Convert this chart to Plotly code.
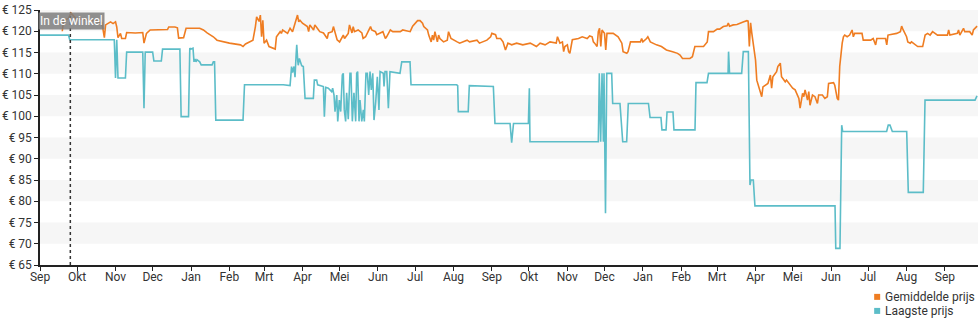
import pandas as pd
import plotly.graph_objects as go

START = pd.Timestamp("2022-09-01")
END_DAY = 757.7

# Gemiddelde prijs: days since START and price in euro
avg_days = [
    18, 19, 23, 25, 29, 36, 44, 50, 52, 53, 57, 59, 61, 62, 63, 65, 66, 69, 70, 77,
    83, 84, 86, 89, 97, 103, 104, 109, 111, 112, 116, 118, 129, 132, 135, 140, 143, 148, 153, 162,
    164, 166, 170, 172, 174, 175, 177, 178, 179, 180, 181, 183, 185, 188, 190, 191, 194, 195, 196, 200,
    202, 204, 206, 208, 209, 210, 212, 216, 217, 218, 221, 222, 224, 226, 229, 232, 233, 236, 237, 238,
    240, 242, 245, 246, 249, 250, 252, 253, 254, 257, 260, 261, 263, 265, 267, 268, 271, 272, 275, 277,
    279, 280, 283, 285, 291, 293, 299, 301, 305, 307, 309, 310, 313, 314, 316, 317, 318, 319, 321, 322,
    323, 326, 329, 330, 332, 334, 337, 339, 342, 345, 347, 353, 355, 358, 361, 364, 365, 368, 369, 372,
    374, 376, 378, 381, 385, 390, 396, 401, 404, 408, 412, 417, 418, 420, 422, 423, 424, 426, 427, 428,
    430, 435, 438, 442, 444, 446, 447, 448, 450, 451, 452, 453, 454, 455, 456, 457, 458, 463, 467, 470,
    471, 474, 475, 477, 482, 485, 486, 487, 490, 491, 493, 495, 498, 502, 506, 511, 515, 517, 519, 525,
    527, 529, 536, 539, 540, 544, 547, 549, 552, 555, 556, 557, 560, 563, 565, 568, 571, 572, 573, 574,
    575, 576, 578, 579, 582, 583, 584, 586, 588, 590, 591, 592, 594, 595, 596, 598, 599, 602, 603, 606,
    608, 610, 612, 613, 614, 616, 617, 618, 620, 621, 622, 624, 626, 628, 629, 632, 634, 636, 637, 641,
    642, 644, 645, 646, 648, 649, 650, 652, 654, 656, 657, 658, 664, 665, 671, 673, 675, 676, 683, 684,
    685, 692, 695, 696, 697, 699, 700, 701, 703, 704, 707, 709, 713, 715, 717, 719, 721, 725, 733, 734,
    735, 741, 742, 743, 746, 747, 751, 753, 754, 757,
]
avg_price = [
    120.0, 122.5, 123.0, 124.3, 123.0, 122.8, 122.5, 122.0, 118.5, 121.5, 122.2, 121.8, 122.2, 121.0, 118.5, 119.5, 118.3, 118.3, 119.7, 119.6,
    119.7, 117.2, 119.5, 120.3, 120.3, 120.4, 121.0, 121.0, 120.8, 118.4, 118.5, 120.7, 120.7, 120.3, 119.6, 118.7, 117.9, 117.5, 117.2, 116.8,
    116.4, 117.0, 117.5, 117.9, 121.1, 123.4, 122.3, 123.8, 118.7, 122.6, 117.2, 117.9, 116.4, 116.0, 115.8, 118.7, 119.9, 119.5, 120.3, 119.5,
    120.7, 119.9, 121.9, 123.8, 122.2, 122.6, 121.9, 121.1, 119.9, 121.5, 120.3, 121.5, 120.7, 119.9, 119.6, 118.3, 119.6, 119.9, 121.1, 119.9,
    118.0, 117.5, 119.1, 118.3, 119.5, 121.5, 119.6, 121.1, 119.9, 120.3, 119.6, 118.3, 118.7, 119.9, 121.1, 120.3, 119.9, 119.2, 119.6, 119.9,
    118.3, 118.7, 120.3, 119.9, 119.9, 120.3, 119.9, 121.2, 122.5, 122.5, 121.9, 121.1, 120.3, 119.1, 117.5, 119.1, 117.9, 119.9, 117.5, 119.1,
    118.3, 117.5, 117.9, 119.9, 118.3, 117.9, 117.5, 117.2, 117.5, 117.9, 117.5, 117.9, 117.2, 117.5, 117.9, 118.7, 119.5, 119.2, 118.3, 118.3,
    117.5, 115.6, 117.2, 116.8, 117.2, 116.8, 117.2, 116.4, 117.2, 116.8, 117.5, 117.2, 118.7, 117.2, 117.5, 115.2, 116.4, 116.8, 115.2, 114.8,
    118.0, 118.3, 118.7, 118.3, 118.9, 118.7, 117.5, 117.2, 116.4, 119.9, 120.7, 116.4, 120.3, 119.9, 119.5, 115.6, 119.5, 119.5, 118.7, 117.2,
    115.2, 114.8, 115.2, 117.5, 117.5, 117.5, 118.3, 117.5, 118.3, 118.7, 117.5, 117.2, 116.8, 116.4, 115.6, 115.2, 114.8, 114.4, 113.6, 113.6,
    114.0, 116.4, 116.4, 117.5, 119.9, 119.9, 120.5, 120.5, 121.1, 121.3, 121.9, 121.2, 121.5, 121.6, 121.9, 122.2, 122.5, 122.4, 116.4, 122.0,
    119.5, 117.5, 113.2, 108.5, 105.4, 104.6, 106.9, 107.3, 107.7, 109.7, 106.6, 109.3, 110.1, 110.5, 111.7, 112.5, 109.3, 108.1, 108.5, 107.3,
    106.6, 106.2, 104.6, 104.2, 101.9, 105.4, 104.6, 106.2, 103.8, 105.8, 102.6, 105.0, 104.6, 103.0, 105.0, 105.0, 104.2, 104.6, 107.7, 107.9,
    107.3, 104.2, 103.8, 111.7, 117.2, 118.7, 119.1, 118.7, 119.1, 120.3, 118.7, 119.5, 119.5, 117.9, 117.9, 118.3, 116.8, 118.3, 118.3, 116.8,
    119.1, 119.5, 119.9, 121.2, 120.5, 119.1, 118.7, 117.5, 117.2, 117.5, 116.9, 116.4, 116.4, 119.1, 119.5, 119.1, 119.9, 119.1, 119.1, 120.3,
    119.1, 119.5, 120.3, 119.1, 120.7, 119.9, 119.9, 119.1, 120.3, 121.2,
]

# Laagste prijs: days since START and price in euro
low_days = [
    0, 23, 24, 60, 61, 62, 63, 69, 70, 83, 84, 85, 91, 92, 98, 99, 113, 114, 120, 121,
    122, 123.6, 124.4, 125.2, 126, 126.8, 129, 130.2, 139, 140, 141, 142, 164, 165.2, 196.5, 202, 203.2, 204.0, 205.2, 206.0,
    206.8, 207.4, 208.2, 208.6, 209.5, 210.6, 211.4, 212.7, 214.1, 220.8, 221.6, 223.5, 224.3, 228.9, 229.7, 230.8, 232.9, 235.6, 236.4, 237.5,
    238.3, 239.7, 240.5, 241.8, 242.9, 244.2, 245.0, 245.8, 246.9, 247.7, 249.0, 250.4, 251.2, 252.3, 253.6, 255.0, 255.8, 256.6, 257.7, 258.5,
    259.9, 261.2, 262.0, 263.3, 264.4, 265.5, 266.6, 267.6, 268.8, 269.8, 271.2, 272.5, 273.8, 274.7, 277.3, 277.9, 278.7, 280.1, 280.5, 281.4,
    282.2, 282.7, 290.8, 292.2, 298.9, 299.7, 336.6, 337.4, 337.9, 345.9, 346.8, 366.2, 367.5, 379.7, 381.0, 382.5, 394.5, 395.3, 395.8, 451.0,
    451.8, 452.9, 454.0, 455.1, 455.6, 456.8, 457.8, 461.8, 462.6, 468.5, 470.7, 473.9, 475.2, 491.5, 492.8, 501.6, 502.4, 505.7, 506.5, 511.3,
    512.1, 529.1, 529.9, 538.8, 540.0, 555.8, 556.2, 557.0, 566.8, 568.1, 572.2, 573.0, 573.5, 574.3, 576.2, 577.5, 642.2, 642.8, 646.2, 647.6,
    648.4, 683.9, 685.2, 686.6, 688.5, 700.1, 701.4, 713.5, 714.9, 755.3, 756.9,
]
low_price = [
    119.1, 119.1, 118.0, 118.0, 109.0, 118.0, 109.0, 109.0, 115.1, 115.1, 101.9, 115.1, 115.1, 113.0, 113.0, 115.8, 115.8, 99.9, 99.9, 116.0,
    115.8, 116.0, 112.8, 113.5, 112.8, 113.3, 112.8, 112.1, 112.1, 112.8, 112.8, 99.1, 99.1, 107.4, 107.4, 107.2, 111.7, 110.3, 111.7, 109.2,
    114.0, 116.8, 113.1, 112.0, 113.6, 112.8, 111.9, 111.7, 104.2, 104.2, 108.5, 108.5, 107.4, 107.0, 99.9, 106.8, 106.6, 105.8, 106.6, 105.0,
    101.1, 105.0, 98.8, 103.8, 101.1, 109.7, 110.1, 101.5, 98.8, 105.5, 99.3, 110.1, 110.1, 98.8, 105.5, 98.8, 110.1, 110.5, 98.8, 103.8,
    98.8, 101.5, 98.8, 110.1, 110.1, 105.0, 110.5, 106.2, 110.1, 99.1, 103.4, 109.3, 101.5, 110.5, 110.1, 107.0, 110.5, 110.5, 107.0, 101.9,
    107.0, 110.5, 110.1, 112.8, 112.8, 107.4, 107.4, 107.2, 101.1, 101.1, 107.2, 107.0, 98.3, 98.3, 93.8, 98.3, 98.3, 106.6, 94.0, 94.0,
    110.1, 94.0, 110.1, 94.0, 110.1, 77.2, 110.1, 110.1, 103.0, 103.0, 94.0, 94.0, 103.0, 103.0, 99.7, 99.7, 96.8, 96.8, 101.0, 101.0,
    96.8, 96.8, 107.9, 107.9, 110.1, 110.1, 115.2, 110.1, 110.1, 115.2, 115.2, 85.0, 83.8, 85.0, 85.0, 78.9, 78.9, 68.9, 68.9, 97.9,
    96.4, 96.4, 97.9, 97.9, 96.4, 96.4, 82.1, 82.1, 103.8, 103.8, 104.8,
]

month_ticks = pd.date_range("2022-09-01", "2024-09-01", freq="MS")
month_labels = ["Sep", "Okt", "Nov", "Dec", "Jan", "Feb", "Mrt", "Apr", "Mei", "Jun", "Jul", "Aug"] * 2 + ["Sep"]
price_ticks = list(range(65, 126, 5))
store_date = pd.Timestamp("2022-09-25 12:00")

series_names = ["Gemiddelde prijs", "Laagste prijs"]
series_colors = ["#ef7d22", "#5cbdc8"]


def to_dates(days):
    return START + pd.to_timedelta(days, unit="D")


fig = go.Figure()
fig.add_trace(go.Scatter(
    x=to_dates(low_days), y=low_price, mode="lines", name=series_names[1],
    line=dict(color=series_colors[1], width=1.6), showlegend=False,
))
fig.add_trace(go.Scatter(
    x=to_dates(avg_days), y=avg_price, mode="lines", name=series_names[0],
    line=dict(color=series_colors[0], width=1.6), showlegend=False,
))

shapes = []
# alternating horizontal bands
for lo in price_ticks[1::2]:
    shapes.append(dict(type="rect", xref="paper", x0=0, x1=1, yref="y", y0=lo, y1=lo + 5,
                       fillcolor="#f6f6f6", line=dict(width=0), layer="below"))
# store-availability marker
shapes.append(dict(type="line", xref="x", x0=store_date, x1=store_date, yref="paper", y0=0, y1=0.99,
                   line=dict(color="#333333", width=1.5, dash="dot")))

annotations = [dict(
    x=store_date, xref="x", y=0.958, yref="paper", text="In de winkel", showarrow=False,
    font=dict(color="white", size=12, family="Roboto, sans-serif"),
    bgcolor="rgba(125,125,125,0.85)", borderpad=1, xanchor="center", yanchor="middle", xshift=1.5,
)]

# legend rows: coloured square + label
legend_y = [-0.125, -0.18]
for name, color, ly in zip(series_names, series_colors, legend_y):
    shapes.append(dict(type="rect", xref="paper", yref="paper", xsizemode="pixel", ysizemode="pixel",
                       xanchor=0.8925, yanchor=ly, x0=-3, x1=3, y0=-3, y1=3,
                       fillcolor=color, line=dict(width=0)))
    annotations.append(dict(x=0.8985, xref="paper", y=ly, yref="paper", text=name, showarrow=False,
                            xanchor="left", yanchor="middle",
                            font=dict(size=12, color="#333333", family="Roboto, sans-serif")))

fig.update_layout(
    width=980, height=325,
    margin=dict(l=40, r=2, t=10, b=60),
    plot_bgcolor="white", paper_bgcolor="white",
    font=dict(family="Roboto, sans-serif", size=12, color="#333333"),
    showlegend=False,
    shapes=shapes, annotations=annotations,
    xaxis=dict(
        type="date", range=[START, START + pd.Timedelta(days=END_DAY)],
        tickvals=month_ticks, ticktext=month_labels,
        ticks="outside", ticklen=4, tickcolor="#222222", ticklabelstandoff=-4,
        showline=True, linecolor="#222222", linewidth=1.5,
        showgrid=False, zeroline=False, fixedrange=True,
    ),
    yaxis=dict(
        range=[65, 125], tickvals=price_ticks, ticktext=[f"€ {v}" for v in price_ticks],
        ticks="outside", ticklen=4, tickcolor="#222222",
        showline=True, linecolor="#222222", linewidth=1.5,
        showgrid=False, zeroline=False, fixedrange=True,
    ),
)

fig.write_html("out.html")
